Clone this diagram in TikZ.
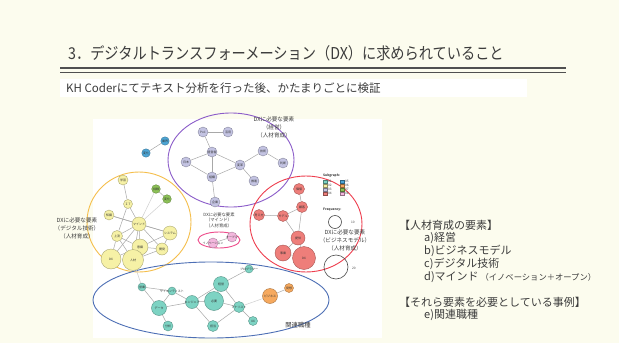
\documentclass[tikz,border=0pt]{standalone}
\usepackage{fontspec}
\setmainfont{Noto Sans CJK JP}
\pgfdeclarelayer{bg}
\pgfdeclarelayer{edl}
\pgfsetlayers{bg,edl,main}
\definecolor{cream}{HTML}{FCFCEE}
\definecolor{txt}{HTML}{3C3C3C}
\definecolor{tealf}{HTML}{7DD3C3}
\definecolor{yelf}{HTML}{F6F1A6}
\definecolor{purf}{HTML}{C3C3E2}
\definecolor{redf}{HTML}{EE7E7A}
\definecolor{bluef}{HTML}{4DA6D6}
\definecolor{orgf}{HTML}{F6A95E}
\definecolor{grnf}{HTML}{8DC257}
\definecolor{pnkf}{HTML}{F3B7DD}
\definecolor{edgec}{HTML}{A8A8A8}
\definecolor{purE}{HTML}{8B5CC9}
\definecolor{yelE}{HTML}{F5BE4A}
\definecolor{redE}{HTML}{EE3E4E}
\definecolor{bluE}{HTML}{4D6FB5}
\definecolor{pnkE}{HTML}{EE4A8A}
\tikzset{
  nd/.style={circle, inner sep=0pt, line width=0.4pt},
  rad/.style={minimum size=2*#1},
  lb/.style={text=black!80, font=\fontsize{3}{3}\selectfont, inner sep=0pt},
  tx/.style={label={[lb]center:#1}},
  tn/.style={nd, fill=tealf, draw=tealf!70!black},
  yn/.style={nd, fill=yelf, draw=yelf!70!black},
  pn/.style={nd, fill=purf, draw=purf!70!black},
  rn/.style={nd, fill=redf, draw=redf!70!black},
  bn/.style={nd, fill=bluef, draw=bluef!70!black},
  on/.style={nd, fill=orgf, draw=orgf!70!black},
  gn/.style={nd, fill=grnf, draw=grnf!70!black},
  kn/.style={nd, fill=pnkf, draw=pnkf!70!black},
  ed/.style={draw=edgec, line width=0.5pt},
  led/.style={draw=edgec!55, line width=0.5pt},
  ell/.style={line width=0.9pt},
  glab/.style={align=center, text=txt, font=\fontsize{5.6}{8}\selectfont, inner sep=0pt},
  body/.style={anchor=west, text=txt, inner sep=0pt, font=\fontsize{11}{11}\selectfont},
  leg/.style={anchor=west, inner sep=0pt, text=black!75, font=\fontsize{3.2}{3.2}\selectfont},
  sq/.style={minimum size=3.4pt, inner sep=0pt, line width=0.3pt}
}
\begin{document}
\begin{tikzpicture}[x=1pt,y=-1pt]
\useasboundingbox (0,0) rectangle (619,343);
\begin{pgfonlayer}{bg}
\fill[cream] (0,0) rectangle (619,343);
\fill[white] (60,79) rectangle (527,97);
\fill[white] (93,119) rectangle (382,338);
\draw[purE, ell] (231,160) ellipse [x radius=63, y radius=47];
\draw[yelE, ell] (139,222) ellipse [x radius=52, y radius=50];
\draw[redE, ell] (306,224) ellipse [x radius=56, y radius=48];
\draw[bluE, ell] (211,300) ellipse [x radius=118, y radius=38];
\draw[pnkE, ell] (219,240) ellipse [x radius=21, y radius=8];
\end{pgfonlayer}

% title
\node[anchor=west, inner sep=0pt, text=txt, font=\fontsize{14.2}{14.2}\selectfont] (title) at (68,53)
  {\scalebox{1}[1.15]{3．デジタルトランスフォーメーション（DX）に求められていること}};
\draw[txt!90, line width=2pt] (60,68) -- (566,68);
\draw[txt!90, line width=0.8pt] (60,72.5) -- (566,72.5);
\node[anchor=west, inner sep=0pt, text=txt, font=\fontsize{11.5}{11.5}\selectfont] (sub) at (66,88)
  {KH Coderにてテキスト分析を行った後、かたまりごとに検証};

% ---- purple cluster
\node[pn, rad=5, tx=PoC] (poc) at (203,132) {};
\node[pn, rad=5, tx=活用] (katsu) at (228,132) {};
\node[pn, rad=5, tx=経営者] (keis) at (212,152) {};
\node[pn, rad=5, tx=日本] (nihon) at (186,162) {};
\node[pn, rad=5, tx=変革] (henk) at (240,165) {};
\node[pn, rad=5, tx=技術] (gijt) at (263,151) {};
\node[pn, rad=5, tx=判断] (hand) at (283,163) {};
\node[pn, rad=5, tx=組織] (sosk) at (212,177) {};
\node[pn, rad=5, tx=推進] (suis) at (254,181) {};
\node[pn, rad=5, tx=企業] (kigy) at (215,202) {};
\node[glab] (plab) at (274,127) {DXに必要な要素\\（経営）\\（人材育成）};

% ---- blue pair
\node[bn, rad=4.2, tx=業界] (gyok) at (165,141) {};
\node[bn, rad=4.2, tx=変化] (henka) at (146,153) {};

% ---- yellow cluster
\node[yn, rad=5, tx=学習] (gaku) at (123,180) {};
\node[yn, rad=4.5, tx=ＩＴ] (it) at (128,204) {};
\node[yn, rad=5, tx=知識] (chis) at (109,215) {};
\node[yn, rad=7, tx=マインド] (mind) at (139,224) {};
\node[yn, rad=7, tx=システム] (syst) at (170,233) {};
\node[yn, rad=5.5, tx=上流] (jyor) at (117,236) {};
\node[yn, rad=8, tx=意識] (ishk) at (140,247) {};
\node[yn, rad=6, tx=開発] (kaih) at (162,249) {};
\node[yn, rad=10, tx=DX] (dxy) at (111,259) {};
\node[yn, rad=10.5, tx=人材] (jinz) at (133,260) {};
\node[gn, rad=4.3, tx=挑戦] (g1) at (156,189) {};
\node[gn, rad=4.3, tx=変化] (g2) at (167,199) {};
\node[glab] (ylab) at (77,228) {DXに必要な要素\\（デジタル技術）\\（人材育成）};

% ---- pink
\node[kn, rad=5, tx=イノベーション] (inno) at (213,243) {};
\node[kn, rad=5, tx=オープン] (open) at (232,237) {};
\node[glab, font=\fontsize{4.3}{5.6}\selectfont] (klab) at (219,220) {DXに必要な要素\\（マインド）\\（人材育成）};

% ---- red cluster
\node[rn, rad=5.5, tx=価値] (kachi) at (299,189) {};
\node[rn, rad=5.5, tx=顧客] (koky) at (302,207) {};
\node[rn, rad=5.5, tx=考え方] (kang) at (259,215) {};
\node[rn, rad=5.5, tx=モデル] (modl) at (283,216) {};
\node[rn, rad=7, tx=提供] (teik) at (298,238) {};
\node[rn, rad=8, tx=事業] (jigy) at (283,253) {};
\node[rn, rad=11.5, tx=DX] (dxr) at (304,258) {};
\node[glab] (rlab) at (345,240) {DXに必要な要素\\（ビジネスモデル）\\（人材育成）};

% ---- teal cluster
\node[tn, rad=4, tx=プログラマー] (prog) at (249,269) {};
\node[tn, rad=4, tx=営業] (eigy) at (142,287) {};
\node[tn, rad=4, tx=サイエンティスト] (scie) at (172,291) {};
\node[tn, rad=7.5, tx=データ] (data) at (159,308) {};
\node[tn, rad=6.5, tx=エンジニア] (engi) at (192,302) {};
\node[tn, rad=7.5, tx=経営] (kei) at (221,284) {};
\node[tn, rad=9.5, tx=必要] (hits) at (214,301) {};
\node[tn, rad=5.5, tx=アナリスト] (anal) at (239,307) {};
\node[tn, rad=5, tx=分析] (bun) at (168,326) {};
\node[tn, rad=5.5, tx=担当] (tant) at (213,326) {};
\node[tn, rad=4.5, tx=UX] (ux) at (253,321) {};
\node[on, rad=7.5, tx=ビジネス] (biz) at (270,296) {};
\node[on, rad=4.5, tx=発想] (hass) at (289,288) {};
\node[glab, font=\fontsize{6.3}{6.3}\selectfont] (blab) at (298,325) {関連職種};

% ---- legend
\node[leg, font=\bfseries\fontsize{3.2}{3.2}\selectfont] (sg) at (323,176) {Subgraph:};
\node[sq, fill=tealf, draw=tealf!60!black] (s1) at (325,181.5) {};
\node[sq, fill=yelf, draw=yelf!60!black] (s2) at (325,185.5) {};
\node[sq, fill=purf, draw=purf!60!black] (s3) at (325,189.5) {};
\node[sq, fill=redf, draw=redf!60!black] (s4) at (325,193.5) {};
\node[sq, fill=bluef, draw=bluef!60!black] (s5) at (342,181.5) {};
\node[sq, fill=orgf, draw=orgf!60!black] (s6) at (342,185.5) {};
\node[sq, fill=grnf, draw=grnf!60!black] (s7) at (342,189.5) {};
\node[sq, fill=pnkf, draw=pnkf!60!black] (s8) at (342,193.5) {};
\node[leg] at (328,181.5) {01};
\node[leg] at (328,185.5) {02};
\node[leg] at (328,189.5) {03};
\node[leg] at (328,193.5) {04};
\node[leg] at (345,181.5) {05};
\node[leg] at (345,185.5) {06};
\node[leg] at (345,189.5) {07};
\node[leg] at (345,193.5) {08};
\node[leg, font=\bfseries\fontsize{3.2}{3.2}\selectfont] (fq) at (323,210) {Frequency:};
\node[circle, draw=black!70, line width=0.6pt, minimum size=13pt, inner sep=0pt] (c10) at (335,222) {};
\node[leg] at (351,222) {10};
\node[circle, draw=black!70, line width=0.6pt, minimum size=24pt, inner sep=0pt] (c20) at (336,267) {};
\node[leg] at (352,268) {20};

% ---- edges
\begin{pgfonlayer}{edl}
\draw[ed] (poc) -- (katsu);
\draw[ed] (poc) -- (keis);
\draw[ed] (keis) -- (nihon);
\draw[ed] (keis) -- (henk);
\draw[ed] (keis) -- (sosk);
\draw[ed] (nihon) -- (sosk);
\draw[ed] (sosk) -- (henk);
\draw[ed] (henk) -- (gijt);
\draw[ed] (gijt) -- (hand);
\draw[ed] (henk) -- (suis);
\draw[ed] (sosk) -- (kigy);
\draw[ed] (gyok) -- (henka);
\draw[ed] (gaku) -- (it);
\draw[ed] (it) -- (mind);
\draw[ed] (it) -- (jyor);
\draw[ed] (chis) -- (mind);
\draw[ed] (chis) -- (syst);
\draw[led] (mind) -- (g1);
\draw[led] (mind) -- (g2);
\draw[ed] (g1) -- (g2);
\draw[ed] (mind) -- (syst);
\draw[ed] (mind) -- (jyor);
\draw[ed] (mind) -- (ishk);
\draw[ed] (mind) -- (kaih);
\draw[ed] (mind) -- (dxy);
\draw[ed] (mind) -- (jinz);
\draw[ed] (jyor) -- (dxy);
\draw[ed] (jyor) -- (jinz);
\draw[ed] (jyor) -- (ishk);
\draw[ed] (ishk) -- (jinz);
\draw[ed] (ishk) -- (dxy);
\draw[ed] (ishk) -- (kaih);
\draw[ed] (kaih) -- (jinz);
\draw[ed] (syst) -- (kaih);
\draw[ed] (syst) -- (ishk);
\draw[led] (jinz) -- (eigy);
\draw[ed] (inno) -- (open);
\draw[ed] (kachi) -- (koky);
\draw[ed] (koky) -- (modl);
\draw[ed] (kang) -- (modl);
\draw[ed] (modl) -- (teik);
\draw[ed] (koky) -- (teik);
\draw[ed] (teik) -- (jigy);
\draw[ed] (teik) -- (dxr);
\draw[ed] (jigy) -- (dxr);
\draw[ed] (eigy) -- (data);
\draw[ed] (eigy) -- (scie);
\draw[ed] (scie) -- (data);
\draw[ed] (scie) -- (engi);
\draw[ed] (data) -- (engi);
\draw[ed] (data) -- (bun);
\draw[ed] (engi) -- (kei);
\draw[ed] (engi) -- (hits);
\draw[ed] (engi) -- (tant);
\draw[ed] (kei) -- (prog);
\draw[ed] (kei) -- (hits);
\draw[ed] (kei) -- (anal);
\draw[ed] (hits) -- (anal);
\draw[ed] (anal) -- (tant);
\draw[ed] (anal) -- (ux);
\draw[led] (anal) -- (biz);
\draw[ed] (biz) -- (hass);
\end{pgfonlayer}

% ---- right text
\node[body] (h1) at (399,225) {【人材育成の要素】};
\node[body] (ia) at (424,238) {a)経営};
\node[body] (ib) at (424,251) {b)ビジネスモデル};
\node[body] (ic) at (424,264) {c)デジタル技術};
\node[body] (id) at (424,277) {d)マインド\,{\fontsize{8.3}{8.3}\selectfont（イノベーション＋オープン）}};
\node[body] (h2) at (399,302) {【それら要素を必要としている事例】};
\node[body] (ie) at (424,315) {e)関連職種};
\end{tikzpicture}
\end{document}
